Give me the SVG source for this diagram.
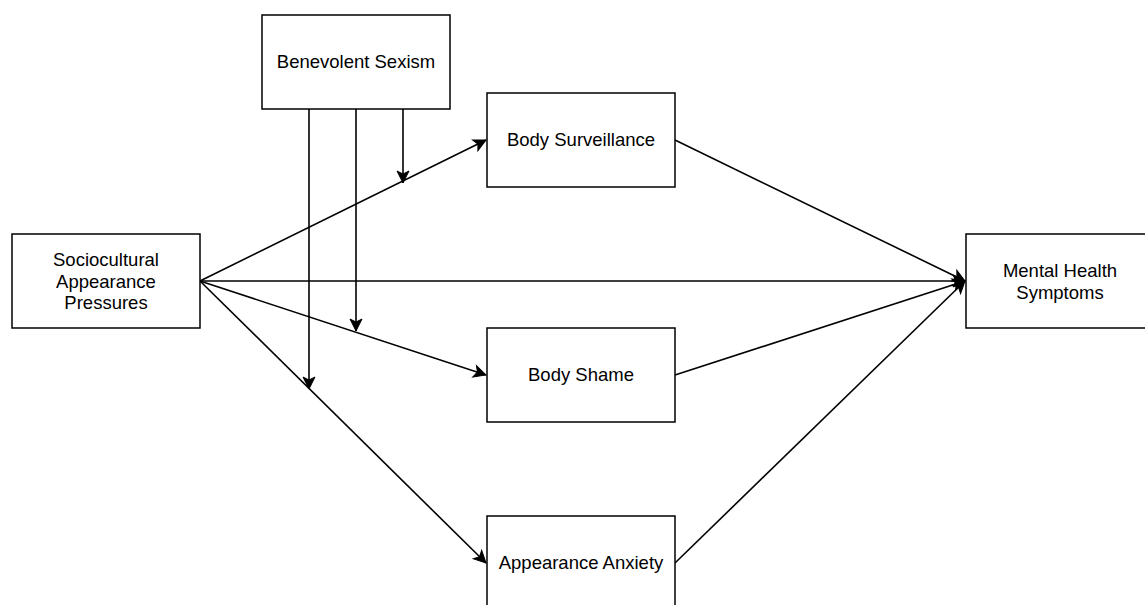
<svg xmlns="http://www.w3.org/2000/svg" width="1145" height="605" viewBox="0 0 1145 605">
  <style>
    .box { fill: #ffffff; stroke: #000000; stroke-width: 1.5; }
    .lbl { font-family: "Liberation Sans", Arial, sans-serif; font-size: 18.5px; fill: #000000; text-anchor: middle; }
    .edge { fill: none; stroke: #000000; stroke-width: 1.6; marker-end: url(#arrow); }
  </style>
  <defs>
    <marker id="arrow" markerUnits="userSpaceOnUse" markerWidth="16" markerHeight="16" viewBox="-14 -8 16 16" refX="0" refY="0" orient="auto">
      <path d="M0,0 L-12,-6 L-9,0 L-12,6 Z" fill="#000000" stroke="#000000" stroke-width="1"/>
    </marker>
  </defs>
  <rect width="1145" height="605" fill="#ffffff"/>

  <g id="connectors">
    <!-- main paths from sociocultural pressures -->
    <line class="edge" x1="200" y1="281" x2="486" y2="140"/>
    <line class="edge" x1="200" y1="281" x2="486" y2="375"/>
    <line class="edge" x1="200" y1="281" x2="486" y2="563"/>
    <line class="edge" x1="200" y1="281" x2="965" y2="281"/>
    <!-- mediators to outcome -->
    <line class="edge" x1="675" y1="140" x2="965" y2="281"/>
    <line class="edge" x1="675" y1="375" x2="965" y2="281"/>
    <line class="edge" x1="675" y1="563" x2="965" y2="281"/>
    <!-- moderation paths -->
    <line class="edge" x1="403" y1="109" x2="403" y2="183"/>
    <line class="edge" x1="356" y1="109" x2="356" y2="331"/>
    <line class="edge" x1="309" y1="109" x2="309" y2="389"/>
  </g>

  <g id="benevolent-sexism">
    <rect class="box" x="262" y="15" width="188" height="94"/>
    <text class="lbl" x="356" y="68">Benevolent Sexism</text>
  </g>

  <g id="sociocultural-pressures">
    <rect class="box" x="12" y="234" width="188" height="94"/>
    <text class="lbl" x="106" y="266">Sociocultural</text>
    <text class="lbl" x="106" y="288">Appearance</text>
    <text class="lbl" x="106" y="309">Pressures</text>
  </g>

  <g id="body-surveillance">
    <rect class="box" x="487" y="93" width="188" height="94"/>
    <text class="lbl" x="581" y="146">Body Surveillance</text>
  </g>

  <g id="body-shame">
    <rect class="box" x="487" y="328" width="188" height="94"/>
    <text class="lbl" x="581" y="381">Body Shame</text>
  </g>

  <g id="appearance-anxiety">
    <rect class="box" x="487" y="516" width="188" height="94"/>
    <text class="lbl" x="581" y="569">Appearance Anxiety</text>
  </g>

  <g id="mental-health-symptoms">
    <rect class="box" x="966" y="234" width="188" height="94"/>
    <text class="lbl" x="1060" y="277">Mental Health</text>
    <text class="lbl" x="1060" y="299">Symptoms</text>
  </g>
</svg>
